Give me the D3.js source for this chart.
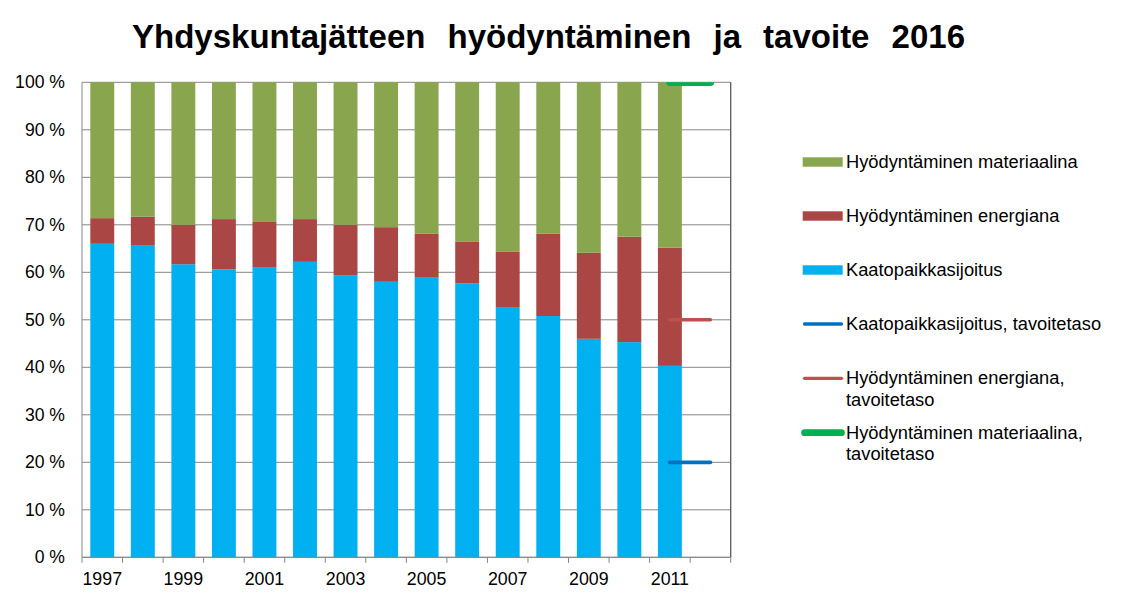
<!DOCTYPE html>
<html>
<head>
<meta charset="utf-8">
<script src="https://cdn.jsdelivr.net/npm/d3@7/dist/d3.min.js"></script>
<style>
  html, body { margin: 0; padding: 0; background: #fff; }
  svg { display: block; font-family: "Liberation Sans", Arial, sans-serif; }
</style>
</head>
<body>
<svg id="chart" width="1148" height="603"></svg>
<script>
const years = [1997, 1998, 1999, 2000, 2001, 2002, 2003, 2004, 2005, 2006, 2007, 2008, 2009, 2010, 2011, 2012];
const barYears = [1997, 1998, 1999, 2000, 2001, 2002, 2003, 2004, 2005, 2006, 2007, 2008, 2009, 2010, 2011];
const landfill = [66.0, 65.6, 61.7, 60.6, 61.1, 62.2, 59.4, 58.0, 59.0, 57.7, 52.7, 50.8, 46.0, 45.3, 40.3];
const energy   = [5.4, 6.1, 8.3, 10.6, 9.5, 9.0, 10.6, 11.5, 9.1, 8.7, 11.6, 17.3, 18.1, 22.2, 24.9];
const material = [28.6, 28.3, 30.0, 28.8, 29.4, 28.8, 30.0, 30.5, 31.9, 33.6, 35.7, 31.9, 35.9, 32.5, 34.8];
const targetYears = [2011, 2012];
const landfillTarget = [20, 20];
const energyTarget = [50, 50];
const materialTarget = [100, 100];
const yTicks = [0, 10, 20, 30, 40, 50, 60, 70, 80, 90, 100];
const xLabels = [1997, 1999, 2001, 2003, 2005, 2007, 2009, 2011];
const title = "Yhdyskuntajätteen hyödyntäminen ja tavoite 2016";

const seriesNames = {
  landfill: "Kaatopaikkasijoitus",
  energy: "Hyödyntäminen energiana",
  material: "Hyödyntäminen materiaalina"
};
const colors = {
  landfill: "#00B0F0",
  energy: "#AA4643",
  material: "#89A54E",
  landfillT: "#0070C0",
  energyT: "#C0504D",
  materialT: "#00B050"
};

(function () {
const svg = d3.select("#chart");
const pLeft = 82, pRight = 730.7, pTop = 82.3, pBottom = 557.3;

const x = d3.scaleBand().domain(years).range([pLeft, pRight]).paddingInner(0.41).paddingOuter(0.205);
const y = d3.scaleLinear().domain([0, 100]).range([pBottom, pTop]);
const step = x.step();

// title
const t = svg.append("text")
  .attr("x", 132).attr("y", 48.3)
  .attr("font-size", 33).attr("font-weight", "bold").attr("fill", "#000")
  .text(title);
const natural = t.node().getComputedTextLength();
const targetW = 833;
t.attr("word-spacing", (targetW - natural) / 4);

// gridlines
svg.append("g").selectAll("line").data(yTicks).join("line")
  .attr("x1", pLeft).attr("x2", pRight)
  .attr("y1", d => y(d)).attr("y2", d => y(d))
  .attr("stroke", "#868686").attr("stroke-width", 1);

// y labels
svg.append("g").selectAll("text").data(yTicks).join("text")
  .attr("x", 65).attr("y", d => y(d) + 6)
  .attr("text-anchor", "end").attr("font-size", 17.6).attr("fill", "#000")
  .text(d => d + " %");

// stacked bars
const rows = barYears.map((yr, i) => ({ year: yr, landfill: landfill[i], energy: energy[i], material: material[i] }));
const stack = d3.stack().keys(["landfill", "energy", "material"]);
const stacked = stack(rows);
svg.append("g").selectAll("g").data(stacked).join("g")
  .attr("fill", d => colors[d.key])
  .selectAll("rect").data(d => d).join("rect")
  .attr("x", d => x(d.data.year))
  .attr("width", x.bandwidth())
  .attr("y", d => y(d[1]))
  .attr("height", d => y(d[0]) - y(d[1]));

// axes lines
svg.append("line").attr("x1", pLeft).attr("x2", pLeft).attr("y1", pTop).attr("y2", pBottom)
  .attr("stroke", "#868686").attr("stroke-width", 1);
svg.append("line").attr("x1", pRight).attr("x2", pRight).attr("y1", pTop).attr("y2", pBottom)
  .attr("stroke", "#595959").attr("stroke-width", 1.3);
svg.append("line").attr("x1", pLeft).attr("x2", pRight).attr("y1", pBottom).attr("y2", pBottom)
  .attr("stroke", "#868686").attr("stroke-width", 1);

// x ticks at category boundaries
const bounds = years.map(d => x(d) - (step - x.bandwidth()) / 2).concat([pRight]);
svg.append("g").selectAll("line").data(bounds).join("line")
  .attr("x1", d => d).attr("x2", d => d)
  .attr("y1", pBottom).attr("y2", pBottom + 5.5)
  .attr("stroke", "#868686").attr("stroke-width", 1);

// x labels
svg.append("g").selectAll("text").data(xLabels).join("text")
  .attr("x", d => x(d) + x.bandwidth() / 2).attr("y", 584.5)
  .attr("text-anchor", "middle").attr("font-size", 17.8).attr("fill", "#000")
  .text(d => d);

// target lines
svg.append("defs").append("clipPath").attr("id", "plotclip")
  .append("rect").attr("x", pLeft).attr("y", pTop).attr("width", pRight - pLeft).attr("height", pBottom - pTop);
const line = d3.line().x(d => x(d[0]) + x.bandwidth() / 2).y(d => y(d[1]));
const targets = [
  { vals: landfillTarget, color: colors.landfillT, w: 3.7 },
  { vals: energyTarget, color: colors.energyT, w: 3.5 },
  { vals: materialTarget, color: colors.materialT, w: 7.5 }
];
svg.append("g").attr("clip-path", "url(#plotclip)").selectAll("path").data(targets).join("path")
  .attr("d", d => line(targetYears.map((yr, i) => [yr, d.vals[i]])))
  .attr("fill", "none").attr("stroke", d => d.color).attr("stroke-width", d => d.w)
  .attr("stroke-linecap", "round");

// legend
const legend = [
  { type: "rect", color: colors.material, lines: [seriesNames.material], cy: 162 },
  { type: "rect", color: colors.energy, lines: [seriesNames.energy], cy: 216 },
  { type: "rect", color: colors.landfill, lines: [seriesNames.landfill], cy: 270 },
  { type: "line", color: colors.landfillT, w: 3.3, lines: ["Kaatopaikkasijoitus, tavoitetaso"], cy: 324 },
  { type: "line", color: colors.energyT, w: 3.3, lines: ["Hyödyntäminen energiana,", "tavoitetaso"], cy: 378.3 },
  { type: "line", color: colors.materialT, w: 6.7, lines: ["Hyödyntäminen materiaalina,", "tavoitetaso"], cy: 432.7 }
];
const lg = svg.append("g");
legend.forEach(item => {
  if (item.type === "rect") {
    lg.append("rect").attr("x", 802.7).attr("y", item.cy - 4.7).attr("width", 40).attr("height", 9.4).attr("fill", item.color);
  } else {
    lg.append("line").attr("x1", 804.5).attr("x2", 841.5).attr("y1", item.cy).attr("y2", item.cy)
      .attr("stroke", item.color).attr("stroke-width", item.w).attr("stroke-linecap", "round");
  }
  item.lines.forEach((ln, i) => {
    lg.append("text").attr("x", 846).attr("y", item.cy + 6 + i * 21.5)
      .attr("font-size", 18.3).attr("fill", "#000").text(ln);
  });
});
})();
</script>
</body>
</html>
